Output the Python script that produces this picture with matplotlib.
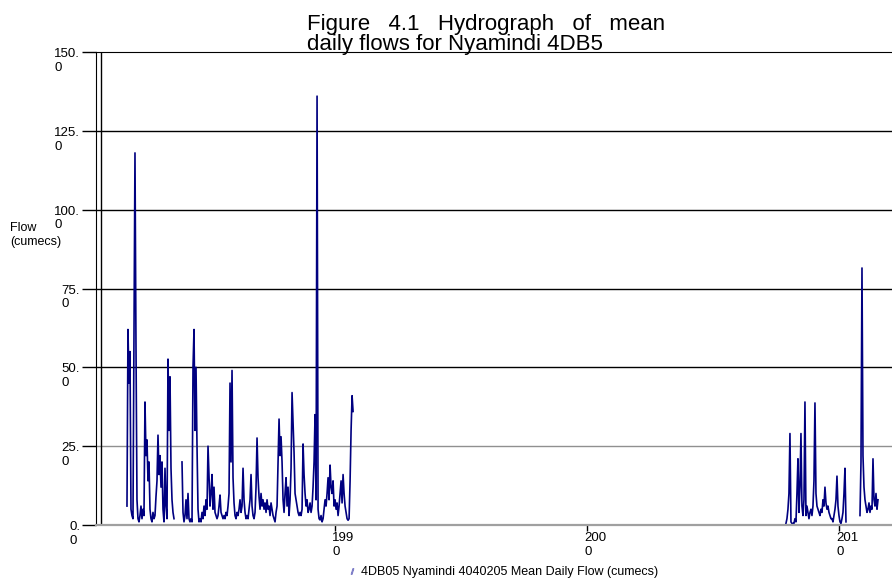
import matplotlib.pyplot as plt
import numpy as np
import pandas as pd
from matplotlib.lines import Line2D
from matplotlib.transforms import ScaledTranslation

nan = np.nan

# Mean daily flow (cumecs) for 4DB05 Nyamindi, read off the hydrograph
# one value per ~14.5 days, nan where the record has a gap.
step = '348h'

period1_start = '1981-09-29'
period1_flow = [
    6, 62, 45, 55, 5, 3, 2, 58, 118, 57,
    8, 2, 1, 3, 6, 2, 5, 3, 39, 22,
    27, 14, 20, 5, 2, 1, 4, 2, 3, 9,
    14, 28.5, 16, 22, 12, 20, 5, 1, 18, 6,
    2, 52.6, 30, 47, 18, 8, 4, 2, nan, nan,
    nan, nan, nan, nan, nan, 20, 4, 1, 3, 8,
    2, 10, 2, 1, 2, 1, 50, 62, 30, 50,
    25, 5, 1, 2, 1, 4, 2, 6, 3, 8,
    5, 25, 15, 6, 10, 16, 5, 12, 4, 3,
    2, 3, 6, 9.5, 4, 3, 2, 3, 2, 4,
    3, 6, 10, 45, 20, 49, 15, 7, 3, 2,
    4, 3, 5, 8, 4, 6, 18, 8, 4, 2,
    3, 2, 5, 8, 16, 6, 3, 2, 4, 12,
    27.6, 15, 9, 5, 10, 6, 8, 5, 7, 4,
    8, 5, 6, 3, 7, 5, 3, 2, 1, 4,
    6, 20, 33.6, 22, 28, 20, 8, 4, 10, 15,
    6, 12, 3, 8, 18, 42, 32, 23, 10, 8,
    6, 4, 3, 4, 3, 5, 25.7, 16, 10, 6,
    8, 4, 5, 7, 4, 6, 12, 20, 35, 8,
    136, 5, 2, 1.6, 3, 1, 2, 5, 8, 6,
    10, 15, 8, 19, 12, 10, 14, 6, 8, 5,
    7, 3, 6, 10, 14, 7, 16, 10, 6, 4,
    2, 1.5, 2, 14, 30, 41, 36,
]

period2_start = '2007-11-23'
period2_flow = [
    0.5, 2, 5, 10, 29, 1, 0.5, 0.5, 0.5, 2,
    1, 10, 21, 4, 12, 29, 6, 3, 8, 39,
    3, 6, 4, 2, 4, 5, 3, 6, 14, 38.7,
    10, 6, 5, 4, 3, 5, 4, 8, 6, 12,
    7, 5, 6, 4, 3, 2, 2, 1, 3, 5,
    8, 15.5, 6, 3, 1, 0.5, 2, 4, 10, 18,
    1, nan, nan, nan, nan, nan, nan, nan, nan, nan,
    nan, nan, nan, nan, 3, 20, 81.5, 22, 12, 8,
    6, 4, 5, 7, 4, 6, 5, 21, 8, 6,
    10, 5, 8,
]

marker_day = '1980-09-18'
x_start, x_end = '1980-07-07', '2012-02-07'

y_ticks = [0, 25, 50, 75, 100, 125, 150]
y_labels = ['0.\n0', '25.\n0', '50.\n0', '75.\n0', '100.\n0', '125.\n0', '150.\n0']
x_ticks = ['1990-01-01', '2000-01-01', '2010-01-01']
x_labels = ['199\n0', '200\n0', '201\n0']

series_name = '4DB05 Nyamindi 4040205 Mean Daily Flow (cumecs)'

plt.rcParams['font.family'] = ['Liberation Sans', 'DejaVu Sans']

fig = plt.figure(figsize=(8.92, 5.83), dpi=100)
ax = fig.add_axes([96 / 892, 1 - 525 / 583, 1 - 96 / 892, 473 / 583])

dates1 = pd.date_range(period1_start, periods=len(period1_flow), freq=step)
dates2 = pd.date_range(period2_start, periods=len(period2_flow), freq=step)
ax.plot(dates1, period1_flow, color='#000080', lw=1.2)
ax.plot(dates2, period2_flow, color='#000080', lw=1.2)
ax.axvline(pd.Timestamp(marker_day), color='black', lw=1)

ax.set_xlim(pd.Timestamp(x_start), pd.Timestamp(x_end))
ax.set_ylim(0, 150)

# gridlines: black except the 25 line which is grey
for v in y_ticks[1:-1]:
    ax.axhline(v, color='#909090' if v == 25 else 'black', lw=1, zorder=0.5)

ax.spines['right'].set_visible(False)
ax.spines['bottom'].set_color('#a0a0a0')
ax.spines['bottom'].set_linewidth(1.6)

# y ticks and wrapped labels
ax.set_yticks(y_ticks)
ax.set_yticklabels([])
ax.tick_params(axis='y', length=10, width=1, direction='out')
for tick, v in zip(ax.yaxis.get_major_ticks(), y_ticks):
    tick.tick1line.set_color('#909090' if v <= 50 else 'black')
ytrans = ax.get_yaxis_transform() + ScaledTranslation(-16 / 100, 4 / 100, fig.dpi_scale_trans)
for v, lab in zip(y_ticks, y_labels):
    ax.text(0, v, lab, transform=ytrans, ha='right', va='top',
            multialignment='left', fontsize=9.5)

# x ticks and wrapped labels
xt = [pd.Timestamp(t) for t in x_ticks]
ax.set_xticks(xt)
ax.set_xticklabels([])
ax.tick_params(axis='x', length=4, width=1, direction='out', color='black')
xtrans = ax.get_xaxis_transform() + ScaledTranslation(-3 / 100, -7 / 100, fig.dpi_scale_trans)
for t, lab in zip(xt, x_labels):
    ax.text(t, 0, lab, transform=xtrans, ha='left', va='top',
            multialignment='left', fontsize=9.5)

fig.text(10 / 892, 1 - 222 / 583, 'Flow\n(cumecs)', ha='left', va='top', fontsize=9)

fig.text(307 / 892, 1 - 30 / 583, 'Figure   4.1   Hydrograph   of   mean',
         ha='left', va='baseline', fontsize=16)
fig.text(307 / 892, 1 - 50 / 583, 'daily flows for Nyamindi 4DB5',
         ha='left', va='baseline', fontsize=16)

handle = Line2D([], [], color='#8080c8', marker='$/$', linestyle='none', markersize=4)
ax.legend([handle], [series_name], loc='center', bbox_to_anchor=(503 / 892, 1 - 572 / 583),
          bbox_transform=fig.transFigure, frameon=False, fontsize=9,
          handlelength=0.6, handletextpad=0.4)

fig.savefig('out.png', dpi=100)
